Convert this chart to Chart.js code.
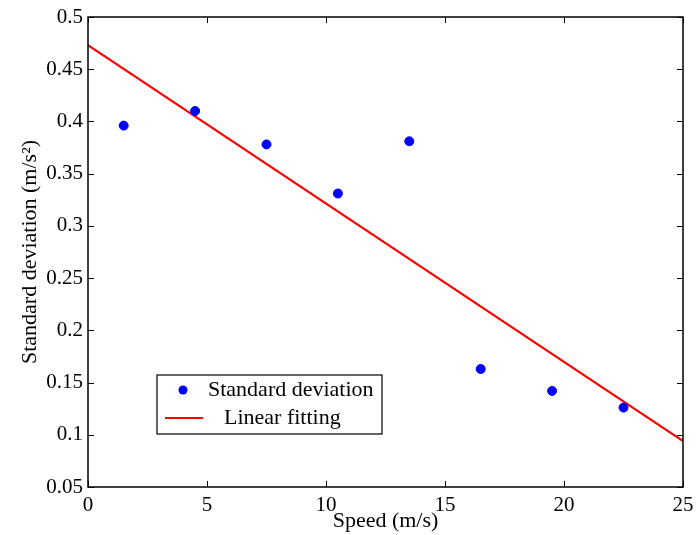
<!DOCTYPE html>
<html>
<head>
<meta charset="utf-8">
<script src="https://cdn.jsdelivr.net/npm/chart.js@4.4.1/dist/chart.umd.min.js"></script>
<style>
  html, body { margin: 0; padding: 0; background: #fff; }
  #wrap { width: 696px; height: 535px; }
</style>
</head>
<body>
<div id="wrap"><canvas id="chart" width="696" height="535"></canvas></div>
<script>
const speeds = [1.5, 4.5, 7.5, 10.5, 13.5, 16.5, 19.5, 22.5];
const stdDev = [0.396, 0.41, 0.378, 0.331, 0.381, 0.163, 0.142, 0.126];
const fitSpeeds = [0, 25];
const fitValues = [0.473, 0.094];
const xTicks = [0, 5, 10, 15, 20, 25];
const yTicks = [0.05, 0.1, 0.15, 0.2, 0.25, 0.3, 0.35, 0.4, 0.45, 0.5];

const serif = "'Liberation Serif', 'Times New Roman', serif";

// matlab style box with inward ticks on all four sides
const boxPlugin = {
  id: "box",
  afterDatasetsDraw(chart) {
    const { ctx, chartArea: a, scales } = chart;
    ctx.save();
    ctx.strokeStyle = "#000";
    ctx.lineWidth = 1;
    ctx.beginPath();
    xTicks.forEach((v) => {
      const x = Math.round(scales.x.getPixelForValue(v)) + 0.5;
      ctx.moveTo(x, a.bottom);
      ctx.lineTo(x, a.bottom - 6);
      ctx.moveTo(x, a.top);
      ctx.lineTo(x, a.top + 6);
    });
    yTicks.forEach((v) => {
      const y = Math.round(scales.y.getPixelForValue(v)) + 0.5;
      ctx.moveTo(a.left, y);
      ctx.lineTo(a.left + 6, y);
      ctx.moveTo(a.right, y);
      ctx.lineTo(a.right - 6, y);
    });
    ctx.stroke();
    ctx.lineWidth = 1.5;
    ctx.strokeRect(a.left, a.top, a.right - a.left, a.bottom - a.top);
    ctx.restore();
  },
  afterDraw(chart) {
    const { ctx, chartArea: a } = chart;
    const ds = chart.data.datasets;
    const bx = a.left + 69, by = a.top + 358, bw = 225, bh = 59;
    ctx.save();
    ctx.fillStyle = "#fff";
    ctx.fillRect(bx, by, bw, bh);
    ctx.strokeStyle = "#000";
    ctx.lineWidth = 1.2;
    ctx.strokeRect(bx, by, bw, bh);
    ctx.font = "22px " + serif;
    ctx.textBaseline = "middle";
    // scatter entry
    ctx.beginPath();
    ctx.arc(bx + 26, by + 15, 4.5, 0, Math.PI * 2);
    ctx.fillStyle = ds[0].backgroundColor;
    ctx.fill();
    ctx.fillStyle = "#000";
    ctx.fillText(ds[0].label, bx + 51, by + 15);
    // line entry
    ctx.beginPath();
    ctx.moveTo(bx + 8, by + 43);
    ctx.lineTo(bx + 46, by + 43);
    ctx.strokeStyle = ds[1].borderColor;
    ctx.lineWidth = 2;
    ctx.stroke();
    ctx.fillText(ds[1].label, bx + 67, by + 43);
    ctx.restore();
  },
};

new Chart(document.getElementById("chart"), {
  type: "scatter",
  data: {
    datasets: [
      {
        label: "Standard deviation",
        data: speeds.map((s, i) => ({ x: s, y: stdDev[i] })),
        backgroundColor: "#0000ff",
        borderColor: "#0000ff",
        pointRadius: 4.5,
        pointHoverRadius: 4.5,
        showLine: false,
      },
      {
        label: "Linear fitting",
        data: fitSpeeds.map((s, i) => ({ x: s, y: fitValues[i] })),
        borderColor: "#ff0000",
        backgroundColor: "#ff0000",
        borderWidth: 2,
        pointRadius: 0,
        showLine: true,
      },
    ],
  },
  options: {
    responsive: false,
    animation: false,
    events: [],
    layout: { padding: { top: 17, right: 13, left: 0, bottom: 0 } },
    plugins: {
      legend: { display: false },
      tooltip: { enabled: false },
    },
    scales: {
      x: {
        type: "linear",
        min: 0,
        max: 25,
        afterFit: (s) => {
          s.height = 48;
          s.paddingLeft = 0;
          s.paddingRight = 0;
        },
        afterBuildTicks: (s) => { s.ticks = xTicks.map((v) => ({ value: v })); },
        grid: { display: false, drawTicks: false, tickLength: 0 },
        border: { display: false },
        ticks: {
          color: "#000",
          padding: 6,
          maxRotation: 0,
          font: { family: serif, size: 21 },
          callback: (v) => String(v),
        },
        title: {
          display: true,
          text: "Speed (m/s)",
          color: "#000",
          font: { family: serif, size: 22 },
          padding: { top: 0, bottom: 1 },
        },
      },
      y: {
        type: "linear",
        min: 0.05,
        max: 0.5,
        afterFit: (s) => {
          s.width = 88;
          s.paddingTop = 0;
          s.paddingBottom = 0;
        },
        afterBuildTicks: (s) => { s.ticks = yTicks.map((v) => ({ value: v })); },
        grid: { display: false, drawTicks: false, tickLength: 0 },
        border: { display: false },
        ticks: {
          color: "#000",
          padding: 5,
          font: { family: serif, size: 21 },
          callback: (v) => String(+v.toFixed(2)),
        },
        title: {
          display: true,
          text: "Standard deviation (m/s²)",
          color: "#000",
          font: { family: serif, size: 22 },
          padding: { top: 17, bottom: 0 },
        },
      },
    },
  },
  plugins: [boxPlugin],
});
</script>
</body>
</html>
